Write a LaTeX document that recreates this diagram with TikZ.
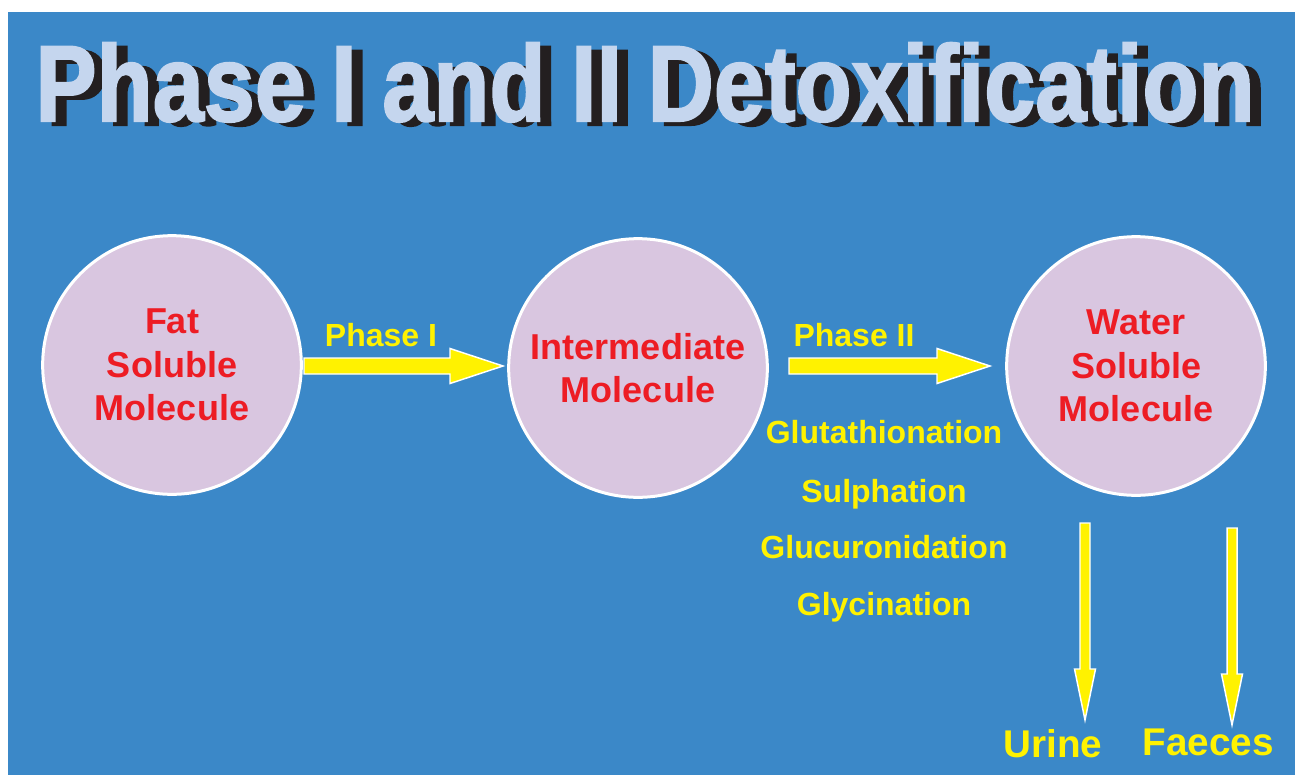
\documentclass[tikz,border=0pt]{standalone}
\usepackage{fontspec}
\setmainfont{Liberation Sans}
\newfontfamily\titlefont[BoldFeatures={FakeBold=2}]{Liberation Sans}
\usetikzlibrary{calc}
\definecolor{bgblue}{HTML}{3B88C8}
\definecolor{lav}{HTML}{D9C6E0}
\definecolor{molred}{HTML}{ED1C24}
\definecolor{ylw}{HTML}{FFF200}
\definecolor{titlelight}{HTML}{C5D6EE}
\definecolor{titledark}{HTML}{231F20}
\tikzset{
  mol/.style={circle, fill=lav, draw=white, line width=2.25pt, minimum size=194pt, inner sep=0pt,
    text=molred, align=center, font=\bfseries\fontsize{27}{32.5}\selectfont},
  ylabel/.style={text=ylw, inner sep=0pt, font=\bfseries\fontsize{24}{28}\selectfont},
  endlabel/.style={text=ylw, inner sep=0pt, font=\bfseries\fontsize{29}{34}\selectfont},
  blockarrow/.style={fill=ylw, draw=white, line width=1.1pt, line join=miter},
  titletext/.style={inner sep=0pt, anchor=base, xscale=0.85,
    font=\titlefont\bfseries\fontsize{81}{90}\selectfont}
}
\newcommand{\titlestr}{Phase I and II Detoxification}
\newcommand{\hblock}[2]{%
  \draw[blockarrow] ($(#1)+(0,-8)$) -- ($(#2)+(-53,-8)$) -- ($(#2)+(-53,-17.5)$) -- (#2)
    -- ($(#2)+(-53,17.5)$) -- ($(#2)+(-53,8)$) -- ($(#1)+(0,8)$) -- cycle;}
\newcommand{\vblock}[2]{%
  \draw[blockarrow] ($(#1)+(-5,0)$) -- ($(#2)+(-5,-51)$) -- ($(#2)+(-10.5,-51)$) -- (#2)
    -- ($(#2)+(10.5,-51)$) -- ($(#2)+(5,-51)$) -- ($(#1)+(5,0)$) -- cycle;}
\begin{document}
\begin{tikzpicture}[x=0.75pt, y=-0.75pt]
\useasboundingbox (0,0) rectangle (1295,775);
\fill[white] (0,0) rectangle (1295,775);
\fill[bgblue] (8,12) rectangle (1295,775);
% title with drop shadow
\node[titletext] (title) at (645,121)
  {\rlap{\kern9.7pt\raisebox{-3pt}{\color{titledark}\titlestr}}{\color{titlelight}\titlestr}};
% molecules
\node[mol] (fat) at (172,365) {Fat\\Soluble\\Molecule};
\node[mol] (int) at (638,368) {Intermediate\\Molecule};
\node[mol] (wat) at (1136,366) {Water\\Soluble\\Molecule};
% horizontal arrows
\coordinate (a1s) at (304,366);
\coordinate (a1t) at (503,366);
\coordinate (a2s) at (789,366);
\coordinate (a2t) at (990,366);
\hblock{a1s}{a1t}
\hblock{a2s}{a2t}
\node[ylabel] (p1) at (381,335) {Phase I};
\node[ylabel] (p2) at (854,335) {Phase II};
% phase II reactions
\node[ylabel, anchor=base] (r1) at (884,443) {Glutathionation};
\node[ylabel, anchor=base] (r2) at (884,502) {Sulphation};
\node[ylabel, anchor=base] (r3) at (884,558) {Glucuronidation};
\node[ylabel, anchor=base] (r4) at (884,615) {Glycination};
% excretion arrows
\coordinate (u1) at (1085,523);
\coordinate (u2) at (1085,720);
\coordinate (f1) at (1232,528);
\coordinate (f2) at (1232,725);
\vblock{u1}{u2}
\vblock{f1}{f2}
\node[endlabel] (urine) at (1053,744) {Urine};
\node[endlabel] (faeces) at (1208,742) {Faeces};
\end{tikzpicture}
\end{document}
